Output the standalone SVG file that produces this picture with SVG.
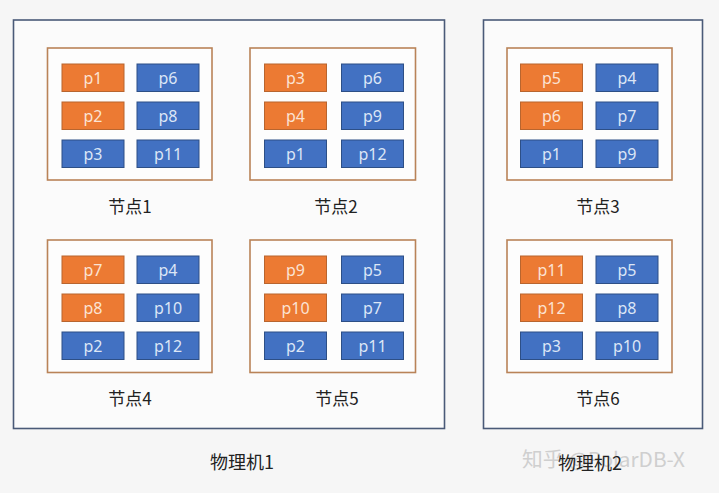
<svg xmlns="http://www.w3.org/2000/svg" width="719" height="493" viewBox="0 0 719 493">
<style>
.bg{fill:#f6f6f6}
.machine{fill:#fbfbfb;stroke:#4a5a78;stroke-width:1.6}
.node{fill:#fdfdfd;stroke:#b98358;stroke-width:1.6}
.o{fill:#ec7a33;stroke:#b8652f;stroke-width:1}
.b{fill:#4271c2;stroke:#2d4f86;stroke-width:1}
.t{font-family:"Noto Sans","Noto Sans CJK SC",sans-serif;font-size:16px;text-anchor:middle}
.to{fill:#fbe3d3}
.tb{fill:#dce6f6}
.lbl{font-family:"Noto Sans CJK SC","Noto Sans",sans-serif;font-size:17px;fill:#222;text-anchor:middle}
.wm{font-family:"Noto Sans CJK SC","Noto Sans",sans-serif;font-size:20px;fill:#cfcfcf}
</style>
<rect class="bg" x="0" y="0" width="719" height="493"/>
<g id="machine1">
<rect class="machine" x="13.5" y="20" width="431" height="408.5"/>
<text class="lbl" x="242" y="469" style="font-size:18px">物理机1</text>
</g>
<g id="machine2">
<rect class="machine" x="483.5" y="20" width="219" height="408.5"/>
<text class="wm" x="522" y="467" textLength="163" lengthAdjust="spacingAndGlyphs">知乎 @PolarDB-X</text>
<text class="lbl" x="590" y="470" style="font-size:18px">物理机2</text>
</g>
<g id="node1">
<rect class="node" x="47.5" y="48" width="164.5" height="132"/>
<rect class="o" x="62" y="64" width="62" height="27.5"/><text class="t to" x="93" y="83.5">p1</text>
<rect class="b" x="137" y="64" width="62" height="27.5"/><text class="t tb" x="168" y="83.5">p6</text>
<rect class="o" x="62" y="102" width="62" height="27.5"/><text class="t to" x="93" y="121.5">p2</text>
<rect class="b" x="137" y="102" width="62" height="27.5"/><text class="t tb" x="168" y="121.5">p8</text>
<rect class="b" x="62" y="140" width="62" height="27.5"/><text class="t tb" x="93" y="159.5">p3</text>
<rect class="b" x="137" y="140" width="62" height="27.5"/><text class="t tb" x="168" y="159.5">p11</text>
<text class="lbl" x="130" y="213">节点1</text>
</g>
<g id="node2">
<rect class="node" x="250" y="48" width="165.5" height="132"/>
<rect class="o" x="264.5" y="64" width="62" height="27.5"/><text class="t to" x="295.5" y="83.5">p3</text>
<rect class="b" x="341.5" y="64" width="62" height="27.5"/><text class="t tb" x="372.5" y="83.5">p6</text>
<rect class="o" x="264.5" y="102" width="62" height="27.5"/><text class="t to" x="295.5" y="121.5">p4</text>
<rect class="b" x="341.5" y="102" width="62" height="27.5"/><text class="t tb" x="372.5" y="121.5">p9</text>
<rect class="b" x="264.5" y="140" width="62" height="27.5"/><text class="t tb" x="295.5" y="159.5">p1</text>
<rect class="b" x="341.5" y="140" width="62" height="27.5"/><text class="t tb" x="372.5" y="159.5">p12</text>
<text class="lbl" x="336" y="213">节点2</text>
</g>
<g id="node3">
<rect class="node" x="507" y="48" width="165" height="132"/>
<rect class="o" x="520.5" y="64" width="62" height="27.5"/><text class="t to" x="551.5" y="83.5">p5</text>
<rect class="b" x="596" y="64" width="62" height="27.5"/><text class="t tb" x="627" y="83.5">p4</text>
<rect class="o" x="520.5" y="102" width="62" height="27.5"/><text class="t to" x="551.5" y="121.5">p6</text>
<rect class="b" x="596" y="102" width="62" height="27.5"/><text class="t tb" x="627" y="121.5">p7</text>
<rect class="b" x="520.5" y="140" width="62" height="27.5"/><text class="t tb" x="551.5" y="159.5">p1</text>
<rect class="b" x="596" y="140" width="62" height="27.5"/><text class="t tb" x="627" y="159.5">p9</text>
<text class="lbl" x="598" y="213">节点3</text>
</g>
<g id="node4">
<rect class="node" x="47.5" y="240" width="164.5" height="132.5"/>
<rect class="o" x="62" y="256" width="62" height="27.5"/><text class="t to" x="93" y="275.5">p7</text>
<rect class="b" x="137" y="256" width="62" height="27.5"/><text class="t tb" x="168" y="275.5">p4</text>
<rect class="o" x="62" y="294" width="62" height="27.5"/><text class="t to" x="93" y="313.5">p8</text>
<rect class="b" x="137" y="294" width="62" height="27.5"/><text class="t tb" x="168" y="313.5">p10</text>
<rect class="b" x="62" y="332" width="62" height="27.5"/><text class="t tb" x="93" y="351.5">p2</text>
<rect class="b" x="137" y="332" width="62" height="27.5"/><text class="t tb" x="168" y="351.5">p12</text>
<text class="lbl" x="130" y="405">节点4</text>
</g>
<g id="node5">
<rect class="node" x="250" y="240" width="165.5" height="132.5"/>
<rect class="o" x="264.5" y="256" width="62" height="27.5"/><text class="t to" x="295.5" y="275.5">p9</text>
<rect class="b" x="341.5" y="256" width="62" height="27.5"/><text class="t tb" x="372.5" y="275.5">p5</text>
<rect class="o" x="264.5" y="294" width="62" height="27.5"/><text class="t to" x="295.5" y="313.5">p10</text>
<rect class="b" x="341.5" y="294" width="62" height="27.5"/><text class="t tb" x="372.5" y="313.5">p7</text>
<rect class="b" x="264.5" y="332" width="62" height="27.5"/><text class="t tb" x="295.5" y="351.5">p2</text>
<rect class="b" x="341.5" y="332" width="62" height="27.5"/><text class="t tb" x="372.5" y="351.5">p11</text>
<text class="lbl" x="337" y="405">节点5</text>
</g>
<g id="node6">
<rect class="node" x="507" y="240" width="165" height="132.5"/>
<rect class="o" x="520.5" y="256" width="62" height="27.5"/><text class="t to" x="551.5" y="275.5">p11</text>
<rect class="b" x="596" y="256" width="62" height="27.5"/><text class="t tb" x="627" y="275.5">p5</text>
<rect class="o" x="520.5" y="294" width="62" height="27.5"/><text class="t to" x="551.5" y="313.5">p12</text>
<rect class="b" x="596" y="294" width="62" height="27.5"/><text class="t tb" x="627" y="313.5">p8</text>
<rect class="b" x="520.5" y="332" width="62" height="27.5"/><text class="t tb" x="551.5" y="351.5">p3</text>
<rect class="b" x="596" y="332" width="62" height="27.5"/><text class="t tb" x="627" y="351.5">p10</text>
<text class="lbl" x="598" y="405">节点6</text>
</g>
<g id="connectors"></g>
</svg>
